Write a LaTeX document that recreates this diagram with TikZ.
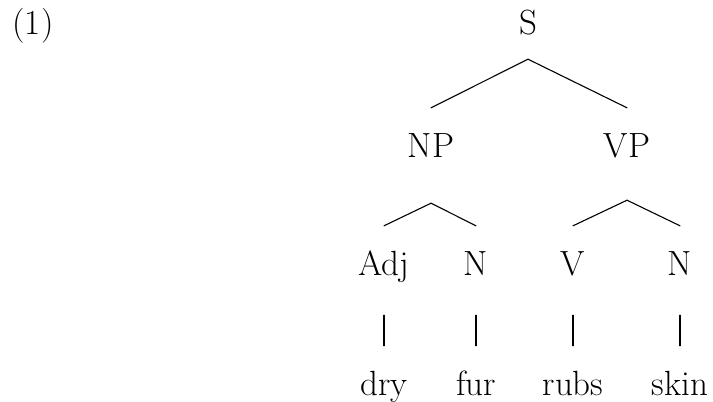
\documentclass[tikz,border=0pt]{standalone}
\begin{document}
\begin{tikzpicture}[x=1pt,y=-1pt,
  lab/.style={font=\fontsize{35}{42}\selectfont, inner xsep=0pt, inner ysep=25pt,
              text height=24pt, text depth=0pt, anchor=base},
  edge/.style={line width=1.1pt, line cap=round}]
\useasboundingbox (0,0) rectangle (713,402);
\node[lab] (ex) at (33,34) {(1)};
\node[lab] (S) at (528,34) {S};
\node[lab] (NP) at (431,157) {NP};
\node[lab] (VP) at (627,157) {VP};
\node[lab] (Adj) at (384,275) {Adj};
\node[lab] (N1) at (476,275) {N};
\node[lab] (V) at (573,275) {V};
\node[lab] (N2) at (680,275) {N};
\node[lab] (dry) at (384,395) {dry};
\node[lab] (fur) at (476,395) {fur};
\node[lab] (rubs) at (573,395) {rubs};
\node[lab] (skin) at (680,395) {skin};
\draw[edge] (S.south) -- (NP.north);
\draw[edge] (S.south) -- (VP.north);
\draw[edge] ([yshift=-21pt]NP.south) -- (Adj.north);
\draw[edge] ([yshift=-21pt]NP.south) -- (N1.north);
\draw[edge] ([yshift=-18pt]VP.south) -- (V.north);
\draw[edge] ([yshift=-18pt]VP.south) -- (N2.north);
\draw[edge] ([yshift=-15pt]Adj.south) -- (dry.north);
\draw[edge] ([yshift=-15pt]N1.south) -- (fur.north);
\draw[edge] ([yshift=-15pt]V.south) -- (rubs.north);
\draw[edge] ([yshift=-15pt]N2.south) -- (skin.north);
\end{tikzpicture}
\end{document}
